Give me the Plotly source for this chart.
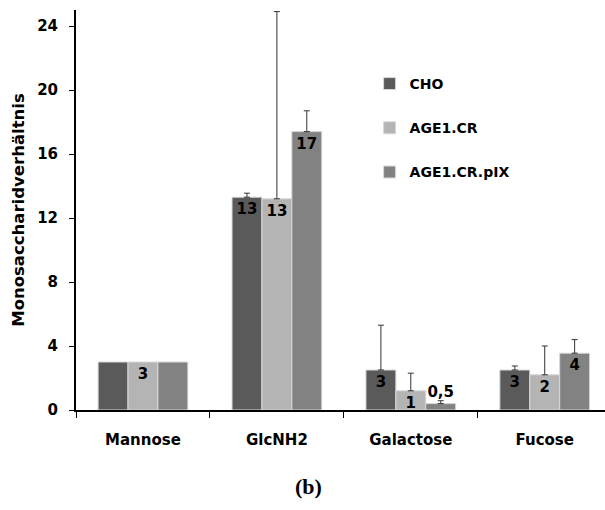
import plotly.graph_objects as go

categories = ["Mannose", "GlcNH2", "Galactose", "Fucose"]
series_names = ["CHO", "AGE1.CR", "AGE1.CR.pIX"]
cho = [3.0, 13.3, 2.5, 2.5]
cho_err = [None, 0.25, 2.8, 0.25]
age = [3.0, 13.2, 1.2, 2.2]
age_err = [None, 11.7, 1.1, 1.8]
pix = [3.0, 17.4, 0.4, 3.55]
pix_err = [None, 1.3, 0.18, 0.85]
cho_labels = ["", "13", "3", "3"]
age_labels = ["3", "13", "1", "2"]
pix_labels = ["", "17", "0,5", "4"]
pix_textpos = ["inside", "inside", "outside", "inside"]
y_ticks = [0, 4, 8, 12, 16, 20, 24]

colors = ["#5a5a5a", "#b4b4b4", "#828282"]
FONT = "DejaVu Sans, Liberation Sans, Arial"
tfont = dict(family=FONT, size=15, color="black", weight="bold")

fig = go.Figure()
data = [(cho, cho_err, cho_labels, ["inside"] * 4),
        (age, age_err, age_labels, ["inside"] * 4),
        (pix, pix_err, pix_labels, pix_textpos)]
for i, (vals, errs, labels, tpos) in enumerate(data):
    # split: categories with error values, and categories without
    for has_err in (True, False):
        idx = [k for k, e in enumerate(errs) if (e is not None) == has_err]
        if not idx:
            continue
        kw = {}
        if has_err:
            kw["error_y"] = dict(type="data", array=[errs[k] for k in idx],
                                 arrayminus=[0] * len(idx), symmetric=False,
                                 color="#333333", thickness=1, width=3)
        fig.add_trace(go.Bar(
            name=series_names[i], x=[categories[k] for k in idx],
            y=[vals[k] for k in idx],
            marker=dict(color=colors[i], line=dict(color="#d8d8d8", width=1)),
            text=[labels[k] for k in idx], textposition=[tpos[k] for k in idx],
            insidetextanchor="end", textangle=0,
            textfont=tfont, outsidetextfont=tfont,
            cliponaxis=False, offsetgroup=series_names[i],
            legendgroup=series_names[i], showlegend=has_err, **kw,
        ))

fig.update_layout(
    width=605, height=510,
    margin=dict(l=76, r=0, t=10, b=100),
    paper_bgcolor="white", plot_bgcolor="white",
    barmode="group", bargap=0.33, bargroupgap=0,
    uniformtext=dict(mode="show", minsize=15),
    showlegend=True,
    legend=dict(x=0.555, y=0.855, xanchor="left", yanchor="top",
                font=dict(family=FONT, size=14, color="black", weight="bold"),
                tracegroupgap=23, bgcolor="rgba(0,0,0,0)"),
    xaxis=dict(range=[-0.5, 3.45], showline=True, linecolor="black", linewidth=2,
               categoryorder="array", categoryarray=categories,
               ticks="outside", tickson="boundaries", ticklen=6, tickcolor="black",
               ticklabelstandoff=15,
               tickfont=dict(family=FONT, size=15, color="black", weight="bold"),
               showgrid=False, zeroline=False),
    yaxis=dict(range=[0, 25], tickvals=y_ticks, showline=True, linecolor="black",
               linewidth=2, ticks="outside", ticklen=5, tickcolor="black",
               ticklabelstandoff=8,
               tickfont=dict(family=FONT, size=15, color="black", weight="bold"),
               title=dict(text="Monosaccharidverhältnis", standoff=8,
                          font=dict(family=FONT, size=16.5, color="black", weight="bold")),
               showgrid=False, zeroline=False),
    annotations=[dict(text="(b)", xref="paper", yref="paper", x=0.44, y=-0.19,
                      xanchor="center", yanchor="middle", showarrow=False,
                      font=dict(family="Liberation Serif, DejaVu Serif", size=22,
                                color="black", weight="bold"))],
)

fig.write_html("out.html", config={"displayModeBar": False},
               post_script="document.body.style.margin='0';")
